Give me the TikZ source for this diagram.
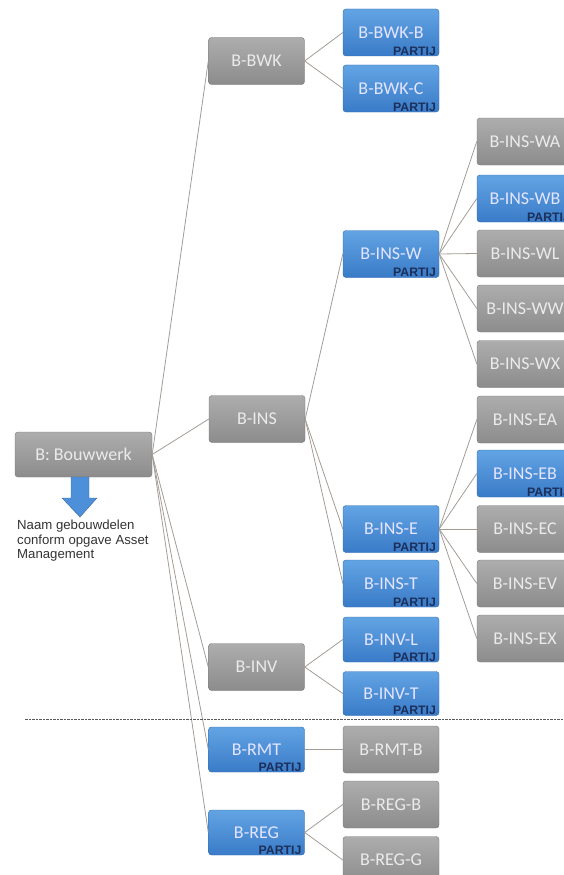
\documentclass[tikz,border=0pt]{standalone}
\usepackage{fontspec}
\setmainfont{Carlito}
\newfontfamily\notefont{Liberation Sans}

\definecolor{grayTop}{HTML}{ADADAD}
\definecolor{grayBot}{HTML}{8C8C8C}
\definecolor{blueTop}{HTML}{62A4E3}
\definecolor{blueBot}{HTML}{3A7BC8}
\definecolor{linkgray}{HTML}{A39C96}
\definecolor{partijblue}{HTML}{1C2F5A}
\definecolor{arrowblue}{HTML}{4D8FD8}

\tikzset{
  box/.style={rounded corners=3pt, minimum width=96pt, minimum height=47pt,
    inner sep=0pt, font=\fontsize{18}{20}\selectfont},
  graybox/.style={box, top color=grayTop, bottom color=grayBot,
    draw=grayBot!85!black, line width=0.4pt, text=white!92!black},
  bluebox/.style={box, top color=blueTop, bottom color=blueBot,
    draw=blueBot!85!black, line width=0.4pt, text=white!90!blue},
  link/.style={draw=linkgray, line width=0.8pt},
  partij/.style={font=\notefont\bfseries\fontsize{12.3}{13}\selectfont,
    text=partijblue, inner sep=0pt, anchor=south east, xshift=-3pt, yshift=0.5pt},
  dashline/.style={draw=black!65, line width=0.9pt, dash pattern=on 2.5pt off 1pt},
}

\begin{document}
\begin{tikzpicture}[x=1pt, y=-1pt]
  \useasboundingbox (0,0) rectangle (564,875);
  \clip (0,0) rectangle (564,875);

  % root and first level
  \node[graybox, minimum width=137pt, minimum height=45pt] (root) at (83.5,454.5) {B: Bouwwerk};
  \node[graybox] (bwk) at (256.5,61)  {B-BWK};
  \node[graybox] (ins) at (257,419)   {B-INS};
  \node[graybox] (inv) at (256.5,667) {B-INV};
  \node[bluebox, minimum height=45pt] (rmt) at (256.5,749.5) {B-RMT};
  \node[bluebox, minimum height=45pt] (reg) at (256.5,832.5) {B-REG};

  % second level
  \node[bluebox] (bwkb) at (391,32.5)  {B-BWK-B};
  \node[bluebox] (bwkc) at (391,88.5)  {B-BWK-C};
  \node[bluebox] (insw) at (391,254)   {B-INS-W};
  \node[bluebox] (inse) at (391,529)   {B-INS-E};
  \node[bluebox] (inst) at (391,583.5) {B-INS-T};
  \node[bluebox, minimum height=45pt] (invl) at (391,639.5) {B-INV-L};
  \node[bluebox, minimum height=44pt] (invt) at (391,693.5) {B-INV-T};
  \node[graybox] (rmtb) at (391,749.5) {B-RMT-B};
  \node[graybox] (regb) at (391,804.5) {B-REG-B};
  \node[graybox] (regg) at (391,860)   {B-REG-G};

  % third level
  \node[graybox] (wa) at (525,141.5) {B-INS-WA};
  \node[bluebox] (wb) at (525,198.5) {B-INS-WB};
  \node[graybox] (wl) at (525,253.5) {B-INS-WL};
  \node[graybox] (ww) at (525,308.5) {B-INS-WW};
  \node[graybox] (wx) at (525,364)   {B-INS-WX};
  \node[graybox] (ea) at (525,419.5) {B-INS-EA};
  \node[bluebox] (eb) at (525,473.5) {B-INS-EB};
  \node[graybox] (ec) at (525,529)   {B-INS-EC};
  \node[graybox] (ev) at (525,583.5) {B-INS-EV};
  \node[graybox] (ex) at (525,638.5) {B-INS-EX};

  % connectors
  \foreach \c in {bwk,ins,inv,rmt,reg} \draw[link] (root.east) -- (\c.west);
  \foreach \c in {bwkb,bwkc} \draw[link] (bwk.east) -- (\c.west);
  \foreach \c in {insw,inse,inst} \draw[link] (ins.east) -- (\c.west);
  \foreach \c in {invl,invt} \draw[link] (inv.east) -- (\c.west);
  \draw[link] (rmt.east) -- (rmtb.west);
  \foreach \c in {regb,regg} \draw[link] (reg.east) -- (\c.west);
  \foreach \c in {wa,wb,wl,ww,wx} \draw[link] (insw.east) -- (\c.west);
  \foreach \c in {ea,eb,ec,ev,ex} \draw[link] (inse.east) -- (\c.west);

  % PARTIJ tags on the blue boxes
  \foreach \b in {bwkb,bwkc,insw,wb,eb,inse,inst,invl,invt,rmt,reg}
    \node[partij] at (\b.south east) {PARTIJ};

  % note under the root
  \fill[arrowblue, draw=arrowblue!75!black, line width=0.4pt]
    (71,477) -- (89,477) -- (89,498) -- (97,498) -- (80,517) -- (62,498) -- (71,498) -- cycle;
  \node[anchor=north west, align=left, inner sep=0pt, text=black!80,
        font=\notefont\fontsize{13.2}{14.5}\selectfont] (note) at (17,520)
    {Naam gebouwdelen\\conform opgave Asset\\Management};

  % separator
  \coordinate (sepL) at (25,719);
  \coordinate (sepR) at (564,719);
  \draw[dashline] (sepL) -- (sepR);
\end{tikzpicture}
\end{document}
